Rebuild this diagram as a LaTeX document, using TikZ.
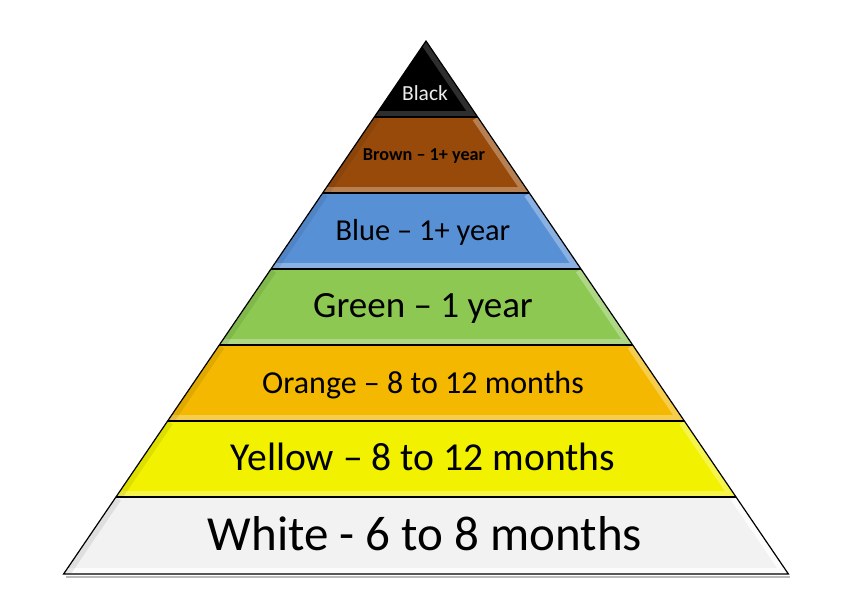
\documentclass[tikz,border=0pt]{standalone}
\usepackage{fontspec}
\setmainfont{Carlito}
\definecolor{brownc}{HTML}{974A0A}
\definecolor{bluec}{HTML}{5890D6}
\definecolor{greenc}{HTML}{8DC852}
\definecolor{orangec}{HTML}{F4B800}
\definecolor{yellowc}{HTML}{F1F100}
\definecolor{whitec}{HTML}{F2F2F2}
\begin{document}
\begin{tikzpicture}[x=1pt,y=-1pt,
  hilite/.style={line width=12pt, white, opacity=0.3, line join=round},
  lowlite/.style={line width=12pt, black, opacity=0.08},
  sep/.style={line width=1.4pt, black},
  outline/.style={line width=1.2pt, black, line join=miter},
  lbl/.style={inner sep=0pt, anchor=base}]
\useasboundingbox (0,0) rectangle (847,611);
% corners of the layers
\coordinate (apex) at (426,41);
\coordinate (l1) at (374.3,117); \coordinate (r1) at (477.7,117);
\coordinate (l2) at (322.6,193); \coordinate (r2) at (529.4,193);
\coordinate (l3) at (271.0,269); \coordinate (r3) at (581.0,269);
\coordinate (l4) at (219.3,345); \coordinate (r4) at (632.7,345);
\coordinate (l5) at (167.6,421); \coordinate (r5) at (684.4,421);
\coordinate (l6) at (115.9,497); \coordinate (r6) at (736.1,497);
\coordinate (l7) at (63.6,574); \coordinate (r7) at (788.4,574);
% shadow under the base
\draw[black!45, line width=2.5pt, opacity=0.6] (66,577) -- (790,577);
% black
\begin{scope}
\clip (apex) -- (r1) -- (l1) -- cycle;
\fill[black] (apex) -- (r1) -- (l1) -- cycle;
\draw[hilite, opacity=0.18] (apex) -- (r1) -- (l1);
\end{scope}
% brown
\begin{scope}
\clip (l1) -- (r1) -- (r2) -- (l2) -- cycle;
\fill[brownc] (l1) -- (r1) -- (r2) -- (l2) -- cycle;
\draw[hilite] (r1) -- (r2) -- (l2);
\draw[lowlite] (l1) -- (l2);
\end{scope}
% blue
\begin{scope}
\clip (l2) -- (r2) -- (r3) -- (l3) -- cycle;
\fill[bluec] (l2) -- (r2) -- (r3) -- (l3) -- cycle;
\draw[hilite] (r2) -- (r3) -- (l3);
\draw[lowlite] (l2) -- (l3);
\end{scope}
% green
\begin{scope}
\clip (l3) -- (r3) -- (r4) -- (l4) -- cycle;
\fill[greenc] (l3) -- (r3) -- (r4) -- (l4) -- cycle;
\draw[hilite] (r3) -- (r4) -- (l4);
\draw[lowlite] (l3) -- (l4);
\end{scope}
% orange
\begin{scope}
\clip (l4) -- (r4) -- (r5) -- (l5) -- cycle;
\fill[orangec] (l4) -- (r4) -- (r5) -- (l5) -- cycle;
\draw[hilite] (r4) -- (r5) -- (l5);
\draw[lowlite] (l4) -- (l5);
\end{scope}
% yellow
\begin{scope}
\clip (l5) -- (r5) -- (r6) -- (l6) -- cycle;
\fill[yellowc] (l5) -- (r5) -- (r6) -- (l6) -- cycle;
\draw[hilite] (r5) -- (r6) -- (l6);
\draw[lowlite] (l5) -- (l6);
\end{scope}
% white
\begin{scope}
\clip (l6) -- (r6) -- (r7) -- (l7) -- cycle;
\fill[whitec] (l6) -- (r6) -- (r7) -- (l7) -- cycle;
\draw[hilite, opacity=0.8] (r6) -- (r7) -- (l7);
\draw[lowlite] (l6) -- (l7);
\end{scope}
% lines between the layers
\draw[sep] (l1) -- (r1);
\draw[sep] (l2) -- (r2);
\draw[sep] (l3) -- (r3);
\draw[sep] (l4) -- (r4);
\draw[sep] (l5) -- (r5);
\draw[sep] (l6) -- (r6);
\draw[outline] (apex) -- (r7) -- (l7) -- cycle;
% labels
\node[lbl, text=black!8, font=\fontsize{21.5}{25}\selectfont] (black) at (425,100) {Black};
\node[lbl, font=\bfseries\fontsize{18.2}{21}\selectfont] (brown) at (424,160) {Brown – 1+ year};
\node[lbl, font=\fontsize{30.4}{36}\selectfont] (blue) at (423,240) {Blue – 1+ year};
\node[lbl, font=\fontsize{37}{43}\selectfont] (green) at (423,317) {Green – 1 year};
\node[lbl, font=\fontsize{32}{38}\selectfont] (orange) at (423,393) {Orange – 8 to 12 months};
\node[lbl, font=\fontsize{39.6}{47}\selectfont] (yellow) at (423,470) {Yellow – 8 to 12 months};
\node[lbl, font=\fontsize{49}{58}\selectfont] (white) at (425,550) {White - 6 to 8 months};
\end{tikzpicture}
\end{document}
